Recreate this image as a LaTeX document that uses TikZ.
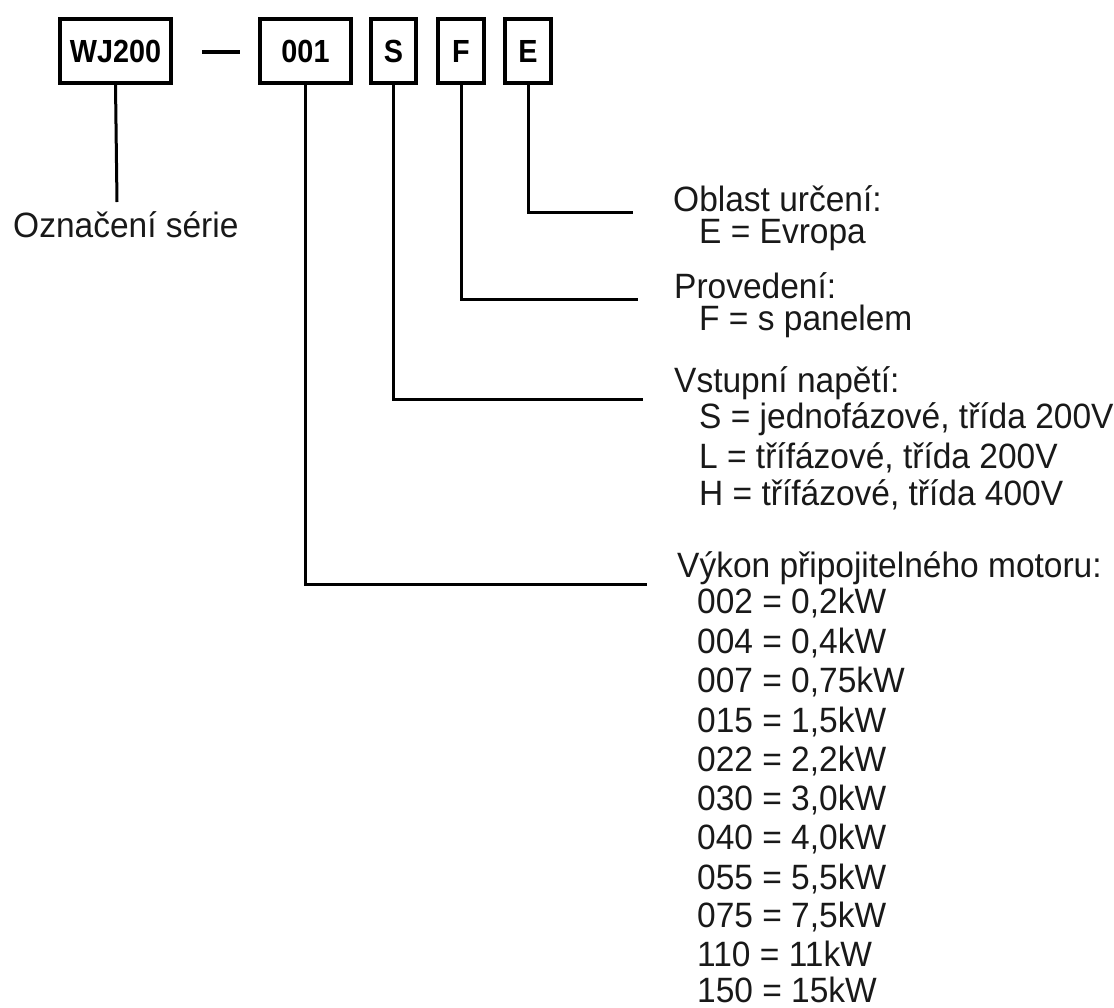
\documentclass[tikz,border=0pt]{standalone}
\usepackage{fontspec}
\setmainfont{Liberation Sans}
\newfontfamily\boxfont{Liberation Sans}[FakeStretch=0.9]
\newcommand\lblsize{\fontsize{33.5bp}{40bp}\selectfont}
\newcommand\boxsize{\fontsize{32bp}{38bp}\selectfont}
\begin{document}
\begin{tikzpicture}[x=1bp,y=-1bp,
  box/.style={draw, line width=3.5bp, inner sep=0pt, minimum height=64bp, font=\boxfont\bfseries\boxsize},
  conn/.style={line width=3bp, line join=miter},
  txt/.style={anchor=base west, inner sep=0pt, font=\lblsize, text=black!90, yscale=1.05, transform shape}]
\useasboundingbox (0,0) rectangle (1114,1008);

% code boxes
\node[box, minimum width=111bp] (wj) at (115.5,51) {WJ200};
\node[box, minimum width=91bp] (b001) at (305.5,51) {001};
\node[box, minimum width=45bp] (bs) at (393.5,51) {S};
\node[box, minimum width=46bp] (bf) at (461,51) {F};
\node[box, minimum width=46bp] (be) at (528,51) {E};

% dash
\coordinate (d1) at (202,52);
\coordinate (d2) at (240,52);
\draw[line width=4bp] (d1) -- (d2);

% free ends of connectors
\coordinate (wjend) at (117,202);
\coordinate (c001) at (647,584);
\coordinate (cs) at (643,399);
\coordinate (cf) at (638,299);
\coordinate (ce) at (633,212);

\draw[conn] (wj.south) -- (wjend);
\draw[conn] (b001.south) |- (c001);
\draw[conn] (bs.south) |- (cs);
\draw[conn] (bf.south) |- (cf);
\draw[conn] (be.south) |- (ce);

% texts
\node[txt] (serie) at (13,237) {Označení série};

\node[txt] (t1) at (673,211) {Oblast určení:};
\node[txt] (t1a) at (699,243) {E = Evropa};

\node[txt] (t2) at (674,298) {Provedení:};
\node[txt] (t2a) at (699,330) {F = s panelem};

\node[txt] (t3) at (674,392) {Vstupní napětí:};
\node[txt] (t3a) at (699,428) {S = jednofázové, třída 200V};
\node[txt] (t3b) at (699,468) {L = třífázové, třída 200V};
\node[txt] (t3c) at (699,505) {H = třífázové, třída 400V};

\node[txt] (t4) at (677,577) {Výkon připojitelného motoru:};
\node[txt] (p1) at (697,613.5) {002 = 0,2kW};
\node[txt] (p2) at (697,653) {004 = 0,4kW};
\node[txt] (p3) at (697,692) {007 = 0,75kW};
\node[txt] (p4) at (697,732) {015 = 1,5kW};
\node[txt] (p5) at (697,771) {022 = 2,2kW};
\node[txt] (p6) at (697,810.5) {030 = 3,0kW};
\node[txt] (p7) at (697,849.5) {040 = 4,0kW};
\node[txt] (p8) at (697,889) {055 = 5,5kW};
\node[txt] (p9) at (697,927.5) {075 = 7,5kW};
\node[txt] (p10) at (697,966) {110 = 11kW};
\node[txt] (p11) at (697,1002) {150 = 15kW};
\end{tikzpicture}
\end{document}
